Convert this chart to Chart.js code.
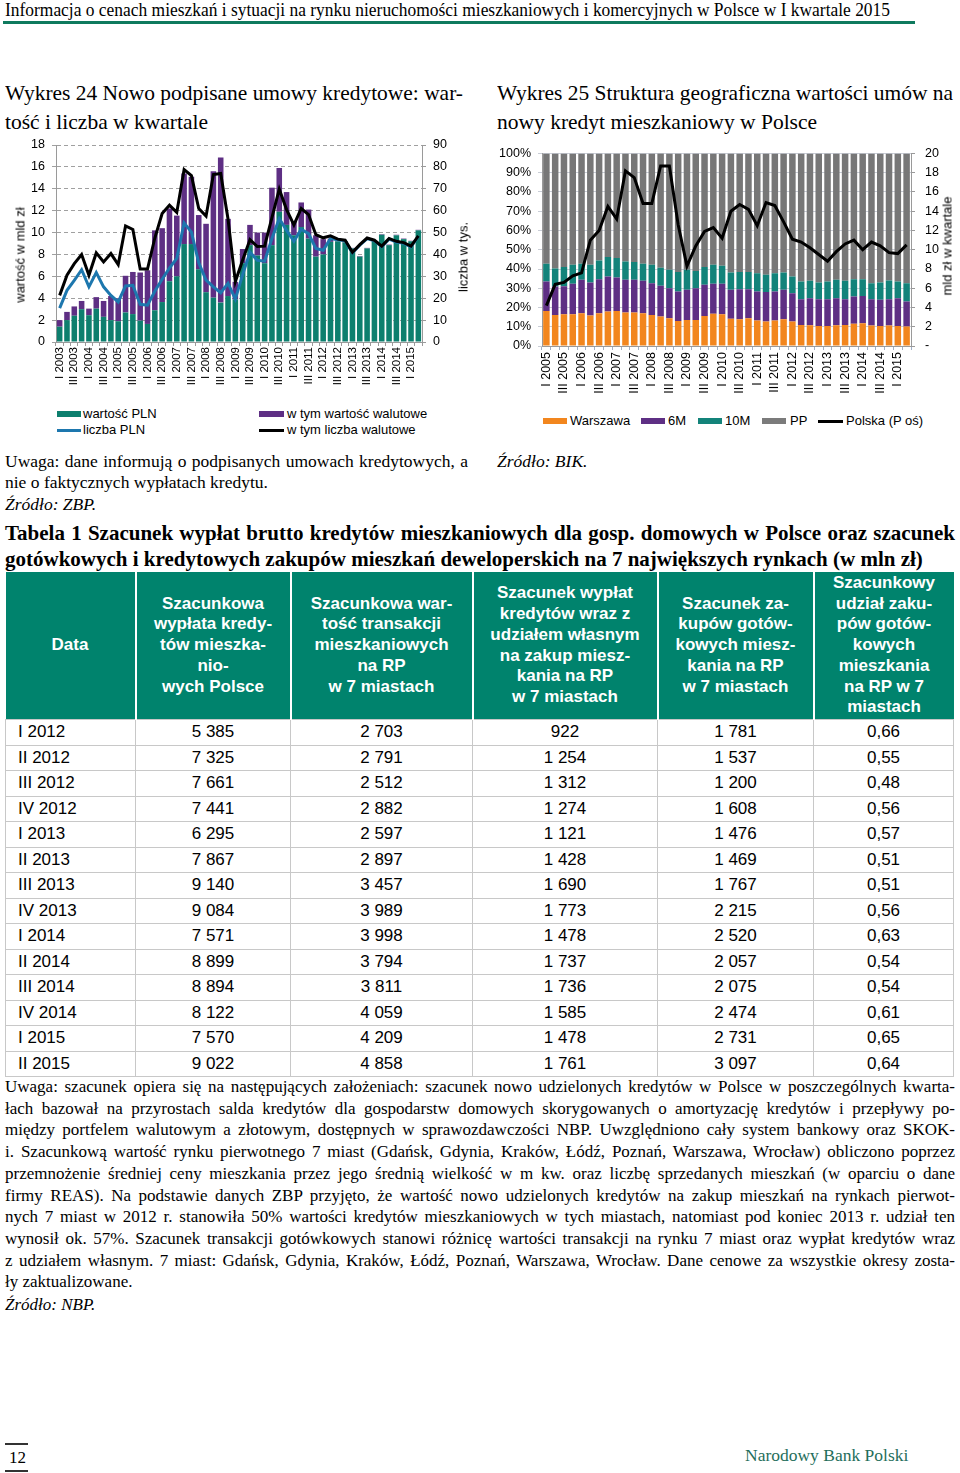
<!DOCTYPE html>
<html><head><meta charset="utf-8">
<script src="https://cdn.jsdelivr.net/npm/chart.js@4"></script>
<style>
body{margin:0;background:#fff;width:960px;height:1473px;position:relative;overflow:hidden;font-family:"Liberation Serif",serif;color:#000}
.t{position:absolute;white-space:nowrap}
.sans{font-family:"Liberation Sans",Arial,sans-serif}
.sw{position:absolute}
#tab{position:absolute;left:5px;top:572px;border-collapse:collapse;table-layout:fixed;font-family:"Liberation Sans",Arial,sans-serif;font-size:17px}
#tab th{background:#00836d;color:#fff;font-weight:bold;line-height:20.7px;height:147px;padding:0;border-left:2px solid #fff;text-align:center;vertical-align:middle}
#tab th:first-child{border-left:none}
#tab td{height:24.5px;padding:0;text-align:center;border:1px solid #c8c8c8;line-height:24px}
#tab td:first-child{text-align:left;padding-left:12px}
</style></head><body>

<div class="t" id="hdr" style="left:5px;top:-2px;font-size:19px;line-height:24px">Informacja o cenach mieszkań i sytuacji na rynku nieruchomości mieszkaniowych i komercyjnych w Polsce w I kwartale 2015</div>
<div style="position:absolute;left:3px;top:21px;width:912px;height:3px;background:#0f7a5e"></div>

<div class="t fit" data-w="458" style="left:5px;top:80px;font-size:21.5px;line-height:26px">Wykres 24 Nowo podpisane umowy kredytowe: war-</div>
<div class="t" style="left:5px;top:109px;font-size:21.5px;line-height:26px">tość i liczba w kwartale</div>
<div class="t fit" data-w="456" style="left:497px;top:80px;font-size:21.5px;line-height:26px">Wykres 25 Struktura geograficzna wartości umów na</div>
<div class="t" style="left:497px;top:109px;font-size:21.5px;line-height:26px">nowy kredyt mieszkaniowy w Polsce</div>

<div style="position:absolute;left:0;top:130px;width:480px;height:260px"><canvas id="c1" width="480" height="260"></canvas></div>
<div style="position:absolute;left:490px;top:136px;width:470px;height:269px"><canvas id="c2" width="470" height="269"></canvas></div>

<div class="t sans" style="left:20px;top:255px;font-size:13px;transform:translate(-50%,-50%) rotate(-90deg)">wartość w mld zł</div>
<div class="t sans" style="left:463px;top:257px;font-size:13px;transform:translate(-50%,-50%) rotate(-90deg)">liczba w tys.</div>
<div class="t sans" style="left:947px;top:246px;font-size:13px;transform:translate(-50%,-50%) rotate(-90deg)">mld zł w kwartale</div>

<div class="sw" style="left:57px;top:411px;width:24px;height:6px;background:#0d7f6e"></div>
<div class="t sans" style="left:83px;top:406px;font-size:13px;line-height:16px">wartość PLN</div>
<div class="sw" style="left:259px;top:411px;width:25px;height:6px;background:#5e2f84"></div>
<div class="t sans" style="left:287px;top:406px;font-size:13px;line-height:16px">w tym wartość walutowe</div>
<div class="sw" style="left:57px;top:429px;width:24px;height:2.5px;background:#1d77ae"></div>
<div class="t sans" style="left:83px;top:422px;font-size:13px;line-height:16px">liczba PLN</div>
<div class="sw" style="left:259px;top:429px;width:25px;height:2.5px;background:#000"></div>
<div class="t sans" style="left:287px;top:422px;font-size:13px;line-height:16px">w tym liczba walutowe</div>

<div class="sw" style="left:543px;top:418px;width:24px;height:6px;background:#f2861e"></div>
<div class="t sans" style="left:570px;top:413px;font-size:13px;line-height:16px">Warszawa</div>
<div class="sw" style="left:641px;top:418px;width:24px;height:6px;background:#5e2f84"></div>
<div class="t sans" style="left:668px;top:413px;font-size:13px;line-height:16px">6M</div>
<div class="sw" style="left:698px;top:418px;width:24px;height:6px;background:#13837a"></div>
<div class="t sans" style="left:725px;top:413px;font-size:13px;line-height:16px">10M</div>
<div class="sw" style="left:762px;top:418px;width:24px;height:6px;background:#7b7b7b"></div>
<div class="t sans" style="left:790px;top:413px;font-size:13px;line-height:16px">PP</div>
<div class="sw" style="left:818px;top:420px;width:25px;height:2.5px;background:#000"></div>
<div class="t sans" style="left:846px;top:413px;font-size:13px;line-height:16px">Polska (P oś)</div>

<div class="t fit" data-w="463" style="left:5px;top:450px;font-size:17.5px;line-height:22px">Uwaga: dane informują o podpisanych umowach kredytowych, a</div>
<div class="t" style="left:5px;top:471px;font-size:17.5px;line-height:22px">nie o faktycznych wypłatach kredytu.</div>
<div class="t" style="left:5px;top:493px;font-size:17.5px;line-height:22px;font-style:italic">Źródło: ZBP.</div>
<div class="t" style="left:497px;top:450px;font-size:17.5px;line-height:22px;font-style:italic">Źródło: BIK.</div>

<div class="t fit" data-w="950" style="left:5px;top:520px;font-size:21px;line-height:26px;font-weight:bold">Tabela 1 Szacunek wypłat brutto kredytów mieszkaniowych dla gosp. domowych w Polsce oraz szacunek</div>
<div class="t" style="left:5px;top:546px;font-size:21px;line-height:26px;font-weight:bold">gotówkowych i kredytowych zakupów mieszkań deweloperskich na 7 największych rynkach (w mln zł)</div>

<table id="tab">
<colgroup><col style="width:130px"><col style="width:155px"><col style="width:182px"><col style="width:185px"><col style="width:156px"><col style="width:140px"></colgroup>
<thead><tr>
<th>Data</th>
<th>Szacunkowa<br>wypłata kredy-<br>tów mieszka-<br>nio-<br>wych Polsce</th>
<th>Szacunkowa war-<br>tość transakcji<br>mieszkaniowych<br>na RP<br>w 7 miastach</th>
<th>Szacunek wypłat<br>kredytów wraz z<br>udziałem własnym<br>na zakup miesz-<br>kania na RP<br>w 7 miastach</th>
<th>Szacunek za-<br>kupów gotów-<br>kowych miesz-<br>kania na RP<br>w 7 miastach</th>
<th>Szacunkowy<br>udział zaku-<br>pów gotów-<br>kowych<br>mieszkania<br>na RP w 7<br>miastach</th>
</tr></thead>
<tbody id="tb"></tbody>
</table>

<div id="notes"></div>
<div class="t" style="left:5px;top:1294px;font-size:17px;line-height:22px;font-style:italic">Źródło: NBP.</div>

<div style="position:absolute;left:5px;top:1443px;width:23px;height:1.5px;background:#333"></div>
<div class="t" style="left:9px;top:1447px;font-size:17px;line-height:22px">12</div>
<div style="position:absolute;left:5px;top:1470px;width:23px;height:1.5px;background:#333"></div>
<div class="t" style="left:745px;top:1444px;font-size:17.5px;line-height:22px;color:#1f6e5b">Narodowy Bank Polski</div>

<script>
// Wykres 24: kwartały I 2003 - II 2015
const quarters1 = ['I 2003','II 2003','III 2003','IV 2003','I 2004','II 2004','III 2004','IV 2004',
  'I 2005','II 2005','III 2005','IV 2005','I 2006','II 2006','III 2006','IV 2006',
  'I 2007','II 2007','III 2007','IV 2007','I 2008','II 2008','III 2008','IV 2008',
  'I 2009','II 2009','III 2009','IV 2009','I 2010','II 2010','III 2010','IV 2010',
  'I 2011','II 2011','III 2011','IV 2011','I 2012','II 2012','III 2012','IV 2012',
  'I 2013','II 2013','III 2013','IV 2013','I 2014','II 2014','III 2014','IV 2014',
  'I 2015','II 2015'];
// mld zł
const wartoscPLN = [1.4,2.0,2.4,3.0,2.45,3.05,2.3,2.0, 1.9,2.7,2.55,1.95,1.65,2.9,3.65,5.55,
  6.0,8.95,8.95,6.65,4.55,4.05,3.6,4.2, 3.9,7.2,8.85,7.9,7.2,8.85,11.9,10.7,
  9.75,10.5,9.45,7.8,8.0,9.15,9.2,9.1, 8.55,7.8,8.55,9.2,9.8,8.85,9.75,9.4, 9.2,10.2];
const wartoscWal = [0.6,0.75,0.85,0.75,0.6,1.05,1.45,2.2, 2.1,3.35,3.85,4.4,4.9,7.3,6.75,6.65,
  5.55,6.45,6.15,4.95,6.25,11.55,13.25,7.05, 1.6,1.3,1.85,2.1,2.8,5.25,4.0,3.0,
  1.25,2.25,2.65,1.95,1.4,0.3,0.15,0.1, 0.05,0.05,0.05,0.05,0.05,0.05,0.05,0.05, 0.05,0.05];
// tys. umów
const liczbaPLN = [15.5,23.6,28.2,33,25.2,31.7,25.2,21.3, 18.3,25.6,25.9,17.2,16.8,23.2,28.7,33.8,
  38.2,54.4,50.2,36.2,28.3,25.2,22.5,26.8, 19.6,30.8,41,37.3,36.9,47.3,56.4,51,
  46,51.5,49.5,42.7,41.9,47.3,46.7,46.2, 40.7,44.2,47.2,46.2,43.5,47,45.7,45.1, 43.5,48.2];
const liczbaWal = [21.3,30.5,35.8,40,30.5,40.7,36.6,40.4, 35.4,53,51.4,33.3,33.3,47.5,58.7,62.5,
  59.2,78.8,76,61,57.5,76.5,77,56.2, 27.6,37.5,46.8,43.6,43.8,56.8,69.8,60.5,
  53.5,61,58.2,49,47.6,48.5,47,46.5, 41,44.5,47.5,46.5,43.8,47.3,46,45.4, 43.8,48.5];

// Wykres 25: kwartały I 2005 - II 2015
const quarters2 = ['I 2005','II 2005','III 2005','IV 2005','I 2006','II 2006','III 2006','IV 2006',
  'I 2007','II 2007','III 2007','IV 2007','I 2008','II 2008','III 2008','IV 2008',
  'I 2009','II 2009','III 2009','IV 2009','I 2010','II 2010','III 2010','IV 2010',
  'I 2011','II 2011','III 2011','IV 2011','I 2012','II 2012','III 2012','IV 2012',
  'I 2013','II 2013','III 2013','IV 2013','I 2014','II 2014','III 2014','IV 2014',
  'I 2015','II 2015'];
// udział w %
const warszawa = [18.2,16.1,16.5,16.5,17.0,15.8,17.0,17.9,18.2,17.4,17.4,17.0,16.1,15.3,14.4,13.0,
  13.5,13.5,15.6,16.7,16.5,14.1,13.9,14.4,13.2,12.7,13.2,13.9,12.7,10.9,10.8,10.4,
  10.4,10.8,10.9,11.5,11.8,10.6,10.4,10.6,10.4,10.1];
const miasta6 = [15.3,14.8,14.5,15.8,17.4,17.2,17.7,18.2,17.4,17.0,17.0,16.9,16.5,16.0,15.6,15.3,
  15.7,16.5,16.2,15.6,15.8,15.1,15.6,15.1,15.1,15.3,15.1,15.3,14.7,13.4,14.0,13.9,
  13.9,14.0,13.4,14.2,14.2,13.7,13.6,13.7,14.4,13.0];
const miasta10 = [9.2,9.4,10.0,9.9,8.3,9.2,9.7,10.1,10.1,9.5,9.2,8.8,9.6,9.4,9.6,10.2,
  10.4,8.9,9.2,9.9,9.4,9.0,8.9,9.0,9.5,9.0,9.5,9.0,8.7,9.2,9.1,8.7,
  9.2,9.6,9.6,9.0,8.7,8.3,9.0,9.7,8.7,9.5];
const pozostale = [57.3,59.7,59.0,57.8,57.3,57.8,55.6,53.8,54.3,56.1,56.4,57.3,57.8,59.4,60.4,61.5,
  60.4,61.1,59.0,57.8,58.3,61.8,61.6,61.5,62.2,63.0,62.2,61.8,63.9,66.5,66.1,67.0,
  66.5,65.6,66.1,65.3,65.3,67.4,67.0,66.0,66.5,67.4];
// mld zł w kwartale
const polska = [4.2,6.4,6.6,7.3,7.6,11.0,12.0,14.5,13.2,18.2,17.5,14.8,14.8,18.7,18.7,12.6,
  8.3,10.4,11.9,12.3,11.2,14.0,14.7,14.2,12.5,14.9,14.6,12.9,11.1,10.8,10.2,9.5,
  8.8,9.8,10.6,11.0,10.0,10.8,10.4,9.7,9.6,10.5];

// Tabela 1
const tabData = ['I 2012','II 2012','III 2012','IV 2012','I 2013','II 2013','III 2013','IV 2013',
  'I 2014','II 2014','III 2014','IV 2014','I 2015','II 2015'];
const tabWyplaty = ['5 385','7 325','7 661','7 441','6 295','7 867','9 140','9 084','7 571','8 899','8 894','8 122','7 570','9 022'];
const tabTransakcje = ['2 703','2 791','2 512','2 882','2 597','2 897','3 457','3 989','3 998','3 794','3 811','4 059','4 209','4 858'];
const tabKredyty = ['922','1 254','1 312','1 274','1 121','1 428','1 690','1 773','1 478','1 737','1 736','1 585','1 478','1 761'];
const tabGotowka = ['1 781','1 537','1 200','1 608','1 476','1 469','1 767','2 215','2 520','2 057','2 075','2 474','2 731','3 097'];
const tabUdzial = ['0,66','0,55','0,48','0,56','0,57','0,51','0,51','0,56','0,63','0,54','0,54','0,61','0,65','0,64'];

const noteLines = [
 'Uwaga: szacunek opiera się na następujących założeniach: szacunek nowo udzielonych kredytów w Polsce w poszczególnych kwarta-',
 'łach bazował na przyrostach salda kredytów dla gospodarstw domowych skorygowanych o amortyzację kredytów i przepływy po-',
 'między portfelem walutowym a złotowym, dostępnych w sprawozdawczości NBP. Uwzględniono cały system bankowy oraz SKOK-',
 'i. Szacunkową wartość rynku pierwotnego 7 miast (Gdańsk, Gdynia, Kraków, Łódź, Poznań, Warszawa, Wrocław) obliczono poprzez',
 'przemnożenie średniej ceny mieszkania przez jego średnią wielkość w m kw. oraz liczbę sprzedanych mieszkań (w oparciu o dane',
 'firmy REAS). Na podstawie danych ZBP przyjęto, że wartość nowo udzielonych kredytów na zakup mieszkań na rynkach pierwot-',
 'nych 7 miast w 2012 r. stanowiła 50% wartości kredytów mieszkaniowych w tych miastach, natomiast pod koniec 2013 r. udział ten',
 'wynosił ok. 57%. Szacunek transakcji gotówkowych stanowi różnicę wartości transakcji na rynku 7 miast oraz wypłat kredytów wraz',
 'z udziałem własnym. 7 miast: Gdańsk, Gdynia, Kraków, Łódź, Poznań, Warszawa, Wrocław. Dane cenowe za wszystkie okresy zosta-',
 'ły zaktualizowane.'
];

// tabela
const tb = document.getElementById('tb');
tabData.forEach((d, i) => {
  const tr = document.createElement('tr');
  [d, tabWyplaty[i], tabTransakcje[i], tabKredyty[i], tabGotowka[i], tabUdzial[i]].forEach(v => {
    const td = document.createElement('td'); td.textContent = v; tr.appendChild(td);
  });
  tb.appendChild(tr);
});

// uwagi
const notes = document.getElementById('notes');
noteLines.forEach((txt, i) => {
  const el = document.createElement('div');
  el.className = 't' + (i < noteLines.length - 1 ? ' fit' : '');
  el.dataset.w = 950;
  el.style.cssText = 'left:5px;top:' + (1076 + i * 21.7) + 'px;font-size:17px;line-height:22px';
  el.textContent = txt;
  notes.appendChild(el);
});

// wyrównanie linii do szerokości
function fitLine(el, w) {
  const nat = el.getBoundingClientRect().width;
  const spaces = (el.textContent.match(/ /g) || []).length;
  if (nat < w && spaces) {
    el.style.wordSpacing = ((w - nat) / spaces) + 'px';
  } else if (nat > w) {
    el.style.transformOrigin = 'left center';
    el.style.transform = 'scaleX(' + (w / nat) + ')';
  }
}
document.querySelectorAll('.fit').forEach(el => fitLine(el, +el.dataset.w));
const hdr = document.getElementById('hdr');
hdr.style.transformOrigin = 'left center';
hdr.style.transform = 'scaleX(' + (885 / hdr.getBoundingClientRect().width) + ')';

Chart.defaults.font.family = '"Liberation Sans", Arial, sans-serif';
Chart.defaults.color = '#000';

new Chart(document.getElementById('c1'), {
  data: {
    labels: quarters1,
    datasets: [
      { type: 'line', label: 'w tym liczba walutowe', data: liczbaWal, yAxisID: 'y2', borderColor: '#000', borderWidth: 3, pointRadius: 0, tension: 0, order: 0 },
      { type: 'line', label: 'liczba PLN', data: liczbaPLN, yAxisID: 'y2', borderColor: '#1d77ae', borderWidth: 3, pointRadius: 0, tension: 0, order: 1 },
      { type: 'bar', label: 'wartość PLN', data: wartoscPLN, backgroundColor: '#0d7f6e', stack: 's', yAxisID: 'y', barPercentage: 0.76, categoryPercentage: 1, order: 2 },
      { type: 'bar', label: 'w tym wartość walutowe', data: wartoscWal, backgroundColor: '#5e2f84', stack: 's', yAxisID: 'y', barPercentage: 0.76, categoryPercentage: 1, order: 2 }
    ]
  },
  options: {
    responsive: false, animation: false,
    layout: { padding: { top: 15 } },
    plugins: { legend: { display: false }, tooltip: { enabled: false } },
    scales: {
      x: {
        stacked: true,
        grid: { drawOnChartArea: false, color: '#9a9a9a', tickLength: 4 },
        border: { color: '#9a9a9a' },
        ticks: { autoSkip: false, maxRotation: 90, minRotation: 90, padding: 1, font: { size: 11.5 },
          callback: (v, i) => i % 2 === 0 ? quarters1[i] : '' },
        afterFit: s => { s.height = 48; }
      },
      y: {
        stacked: true, position: 'left', min: 0, max: 18,
        ticks: { stepSize: 2, padding: 7, font: { size: 12.5 } },
        grid: { color: '#a0a0a0', tickLength: 4 },
        border: { color: '#9a9a9a', dash: [4, 3] },
        afterFit: s => { s.width = 56; }
      },
      y2: {
        position: 'right', min: 0, max: 90,
        ticks: { stepSize: 10, padding: 7, font: { size: 12.5 } },
        grid: { drawOnChartArea: false, color: '#9a9a9a', tickLength: 4 },
        border: { color: '#9a9a9a' },
        afterFit: s => { s.width = 58; }
      }
    }
  }
});

new Chart(document.getElementById('c2'), {
  data: {
    labels: quarters2,
    datasets: [
      { type: 'line', label: 'Polska (P oś)', data: polska, yAxisID: 'y2', borderColor: '#000', borderWidth: 3, pointRadius: 0, tension: 0, order: 0 },
      { type: 'bar', label: 'Warszawa', data: warszawa, backgroundColor: '#f2861e', stack: 's', barPercentage: 0.74, categoryPercentage: 1, order: 1 },
      { type: 'bar', label: '6M', data: miasta6, backgroundColor: '#5e2f84', stack: 's', barPercentage: 0.74, categoryPercentage: 1, order: 1 },
      { type: 'bar', label: '10M', data: miasta10, backgroundColor: '#13837a', stack: 's', barPercentage: 0.74, categoryPercentage: 1, order: 1 },
      { type: 'bar', label: 'PP', data: pozostale, backgroundColor: '#777777', stack: 's', barPercentage: 0.74, categoryPercentage: 1, order: 1 }
    ]
  },
  options: {
    responsive: false, animation: false,
    layout: { padding: { top: 17 } },
    plugins: { legend: { display: false }, tooltip: { enabled: false } },
    scales: {
      x: {
        stacked: true,
        grid: { drawOnChartArea: false, color: '#9fb0c8', tickLength: 4 },
        border: { color: '#9a9a9a' },
        ticks: { autoSkip: false, maxRotation: 90, minRotation: 90, padding: 2, font: { size: 12.5 },
          callback: (v, i) => i % 2 === 0 ? quarters2[i] : '' },
        afterFit: s => { s.height = 59; }
      },
      y: {
        stacked: true, position: 'left', min: 0, max: 100,
        ticks: { stepSize: 10, padding: 7, font: { size: 12.5 }, callback: v => v + '%' },
        grid: { color: '#c9cdd6', tickLength: 4 },
        border: { color: '#9a9a9a' },
        afterFit: s => { s.width = 52; }
      },
      y2: {
        position: 'right', min: 0, max: 20,
        ticks: { stepSize: 2, padding: 10, font: { size: 12.5 }, callback: v => v === 0 ? '-' : v },
        grid: { drawOnChartArea: false, color: '#9a9a9a', tickLength: 4 },
        border: { color: '#9a9a9a' },
        afterFit: s => { s.width = 49; }
      }
    }
  }
});
</script>
</body></html>
